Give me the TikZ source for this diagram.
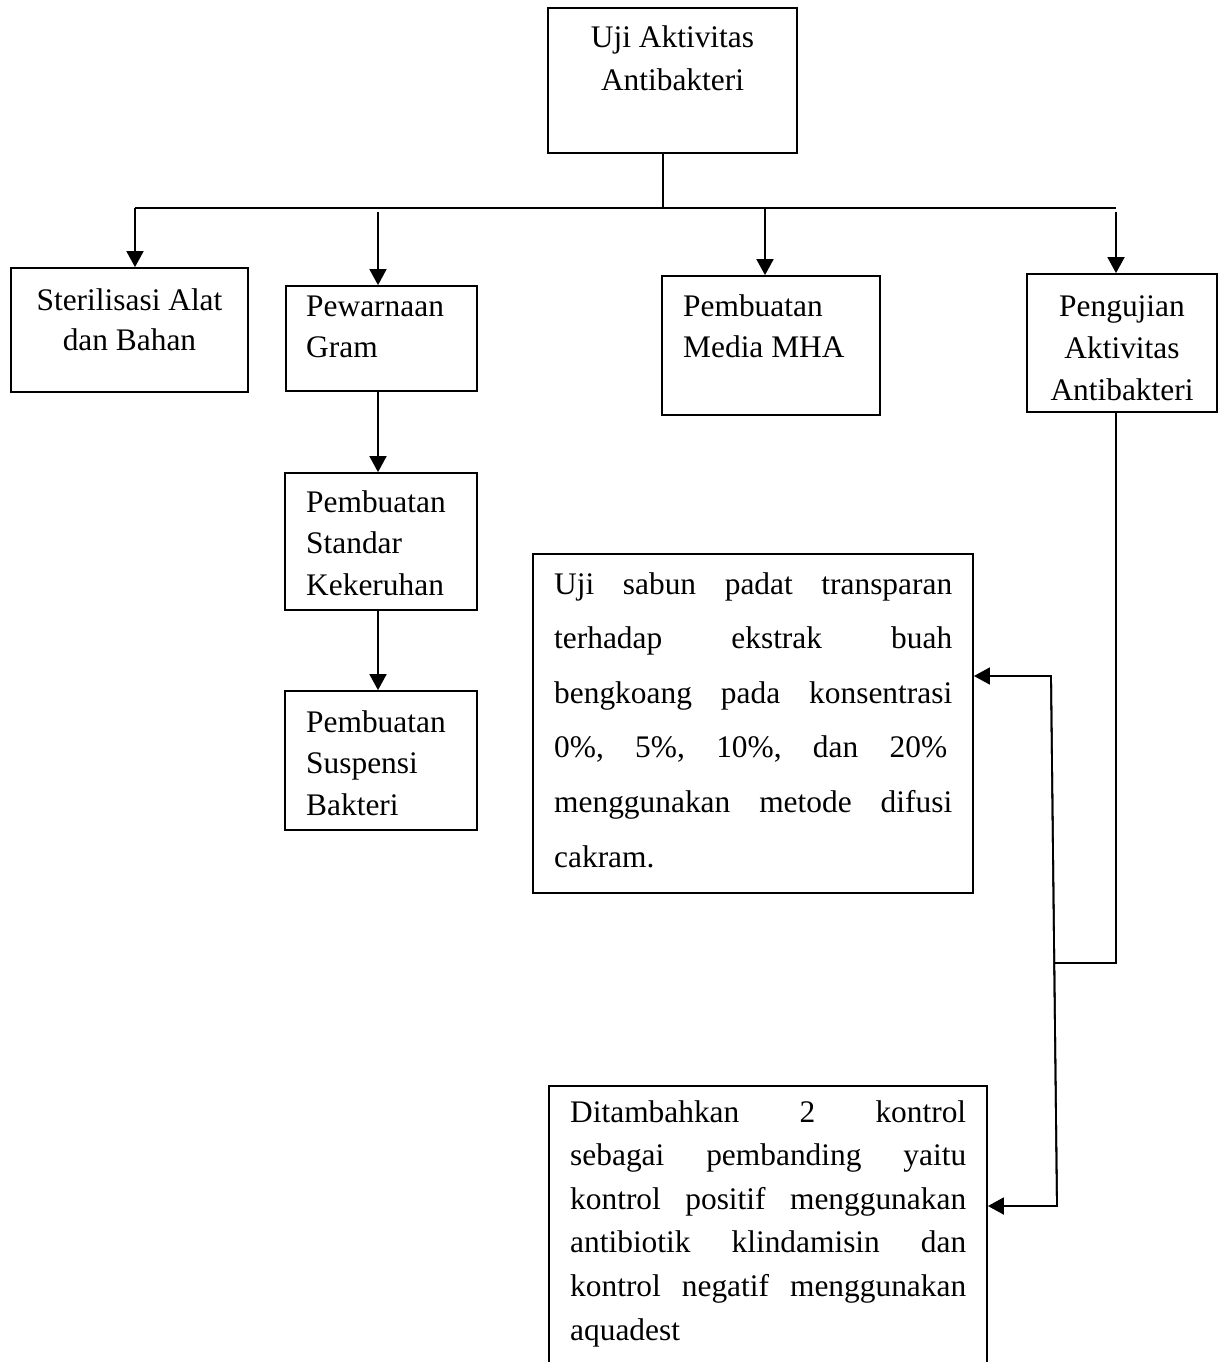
\documentclass[tikz,border=0pt]{standalone}
\usepackage{fontspec}
\setmainfont{Liberation Serif}
\usetikzlibrary{arrows.meta}
\begin{document}
\begin{tikzpicture}[x=1pt,y=-1pt,
  box/.style={draw,line width=1.8pt,inner sep=0pt},
  txt/.style={inner sep=0pt,font=\fontsize{31.4}{41.5}\selectfont},
  conn/.style={line width=1.8pt,line join=miter},
  arr/.style={conn,-{Triangle[length=16pt,width=17pt]}}]
\useasboundingbox (0,0) rectangle (1219,1362);
\clip (0,0) rectangle (1219,1362);
% boxes
\node[box,minimum width=249pt,minimum height=145pt] (top) at (672.5,80.5) {};
\node[box,minimum width=237pt,minimum height=124pt] (steril) at (129.5,330) {};
\node[box,minimum width=191pt,minimum height=105pt] (pewarna) at (381.5,338.5) {};
\node[box,minimum width=218pt,minimum height=139pt] (mha) at (771,345.5) {};
\node[box,minimum width=190pt,minimum height=138pt] (penguji) at (1122,343) {};
\node[box,minimum width=192pt,minimum height=137pt] (standar) at (381,541.5) {};
\node[box,minimum width=192pt,minimum height=139pt] (suspensi) at (381,760.5) {};
\node[box,minimum width=440pt,minimum height=339pt] (ujisabun) at (753,723.5) {};
\node[box,minimum width=438pt,minimum height=314pt] (ditambah) at (768,1243) {};
% texts
\node[txt,anchor=base] (ttop) at (672.5,48) {\parbox[t]{245pt}{\fontsize{31.4}{43}\selectfont\centering Uji Aktivitas\\Antibakteri}};
\node[txt,anchor=base] (tsteril) at (129.5,310) {\parbox[t]{233pt}{\fontsize{31.4}{40}\selectfont\centering Sterilisasi Alat\\dan Bahan}};
\node[txt,anchor=base west] (tpewarna) at (306,316) {\parbox[t]{168pt}{\fontsize{31.4}{41}\selectfont\raggedright Pewarnaan\\Gram}};
\node[txt,anchor=base west] (tmha) at (683,316) {\parbox[t]{195pt}{\fontsize{31.4}{41}\selectfont\raggedright Pembuatan\\Media MHA}};
\node[txt,anchor=base] (tpenguji) at (1122,316) {\parbox[t]{186pt}{\fontsize{31.4}{42}\selectfont\centering Pengujian\\Aktivitas\\Antibakteri}};
\node[txt,anchor=base west] (tstandar) at (306,512) {\parbox[t]{168pt}{\fontsize{31.4}{41.5}\selectfont\raggedright Pembuatan\\Standar\\Kekeruhan}};
\node[txt,anchor=base west] (tsuspensi) at (306,732) {\parbox[t]{168pt}{\fontsize{31.4}{41.5}\selectfont\raggedright Pembuatan\\Suspensi\\Bakteri}};
\node[txt,anchor=base west] (tujisabun) at (554,594) {\parbox[t]{398pt}{\fontsize{31.4}{54.6}\selectfont
  \hbox to 398pt{Uji\hfill sabun\hfill padat\hfill transparan}
  \hbox to 398pt{terhadap\hfill ekstrak\hfill buah}
  \hbox to 398pt{bengkoang\hfill pada\hfill konsentrasi}
  \hbox to 393pt{0\%,\hfill 5\%,\hfill 10\%,\hfill dan\hfill 20\%}
  \hbox to 398pt{menggunakan\hfill metode\hfill difusi}
  \hbox{cakram.}}};
\node[txt,anchor=base west] (tditambah) at (570,1122) {\parbox[t]{396pt}{\fontsize{31.4}{43.6}\selectfont
  \hbox to 396pt{Ditambahkan\hfill 2\hfill kontrol}
  \hbox to 396pt{sebagai\hfill pembanding\hfill yaitu}
  \hbox to 396pt{kontrol\hfill positif\hfill menggunakan}
  \hbox to 396pt{antibiotik\hfill klindamisin\hfill dan}
  \hbox to 396pt{kontrol\hfill negatif\hfill menggunakan}
  \hbox{aquadest}}};
% connector coordinates
\coordinate (hL) at (135,208);
\coordinate (hR) at (1116,208);
\coordinate (stem) at (663,208);
\coordinate (p1) at (378,212);
\coordinate (m1) at (765,208);
\coordinate (q1) at (1116,212);
\coordinate (j) at (1054,963);
\coordinate (v1) at (1051,676);
\coordinate (v2) at (1057,1206);
% connectors
\draw[conn] (top.south -| stem) -- (stem);
\draw[conn] (hL) -- (hR);
\draw[arr] (hL) -- (steril.north -| hL);
\draw[arr] (p1) -- (pewarna.north -| p1);
\draw[arr] (m1) -- (mha.north -| m1);
\draw[arr] (q1) -- (penguji.north -| q1);
\draw[arr] (pewarna.south -| p1) -- (standar.north -| p1);
\draw[arr] (standar.south -| p1) -- (suspensi.north -| p1);
\draw[conn] (penguji.south -| q1) -- (q1 |- j) -- (j);
\draw[arr] (v2) -- (v1) -- (ujisabun.east |- v1);
\draw[arr] (v1) -- (v2) -- (ditambah.east |- v2);
\end{tikzpicture}
\end{document}
